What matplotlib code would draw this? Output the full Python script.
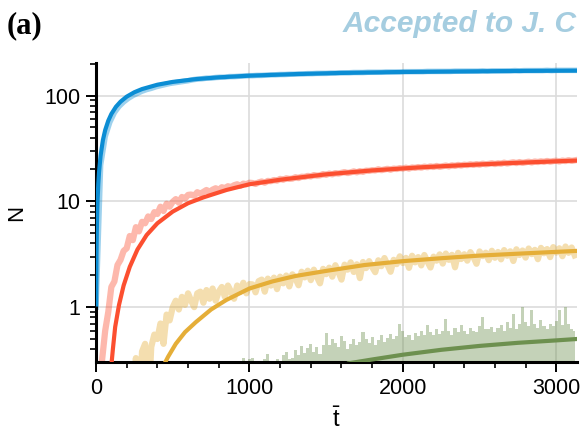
import numpy as np
import matplotlib
matplotlib.use("Agg")
import matplotlib.pyplot as plt
from matplotlib.ticker import FixedLocator, LogLocator, NullFormatter, FixedFormatter

plt.rcParams['font.family'] = ['Liberation Sans', 'DejaVu Sans']
plt.rcParams['mathtext.fontset'] = 'custom'
plt.rcParams['mathtext.rm'] = 'Liberation Sans'

# ---------------- data ----------------
blue_step = 30   # time spacing of the blue samples
fine_step = 20   # time spacing of the red / yellow / green samples

blue_data = [1.0, 22, 41, 56, 69, 79, 87, 94, 100, 105, 110, 114, 117, 121, 124, 127, 130, 132, 134, 136, 138,
             141, 143, 144, 146, 146, 148, 149, 149, 151, 151, 152, 153, 154,
             154, 155, 155, 156, 157, 157, 158, 158, 159, 159, 160, 160, 161, 161, 162, 162, 162,
             163, 163, 164, 164, 164, 165, 165, 165, 166, 166, 166, 166, 167, 167, 167, 167, 168, 168, 168, 168,
             168, 169, 169, 169, 169, 169, 169, 170, 170, 170, 170, 170, 170, 171, 170, 171, 171, 171, 171, 171,
             172, 171, 172, 172, 172, 172, 172, 173, 172, 173, 173, 173, 173, 173]

red_data = [0.1, 0.18, 0.32, 0.6, 0.9, 1.55, 1.75, 2.5, 2.8, 3.4,
            3.6, 4.7, 4.3, 5.7, 5.2, 6.4, 6.2, 7.2, 6.8, 7.9, 7.6, 8.9, 8.1, 9.5, 8.9, 9.9,
            10.5, 9.7, 11.0, 10.6, 11.5,
            11.6, 11.3, 12.2, 11.8, 12.3, 12.8, 12.3, 12.9, 13.3, 12.8, 13.6, 13.3, 13.9, 13.6, 14.2,
            14.5, 14.0, 14.7, 14.5, 15.0,
            14.9, 14.6, 15.1, 15.4, 15.0, 15.6, 15.5, 15.9, 15.7, 16.3,
            16.0, 16.5, 16.3, 16.4, 16.9, 16.6, 17.1, 17.0, 17.4, 17.2,
            17.7, 17.5, 17.6, 18.1, 17.8, 18.3, 18.0, 18.5, 18.3, 18.6,
            18.9, 18.5, 18.8, 19.2, 18.8, 19.3, 19.0, 19.5, 19.4, 19.7,
            19.6, 20.1, 19.7, 20.0, 20.3, 19.9, 20.4, 20.2, 20.6, 20.4,
            20.8, 20.4, 20.9, 20.7, 21.1, 20.8, 21.3, 21.0, 21.4, 21.1,
            21.6, 21.2, 21.5, 21.8, 21.4, 21.9, 21.6, 22.1, 21.8, 22.2,
            22.0, 22.4, 22.1, 22.5, 22.2, 22.7, 22.4, 22.6, 22.9, 22.5,
            22.9, 22.7, 23.2, 22.8, 23.1, 23.4, 23.0, 23.5, 23.1, 23.4,
            23.7, 23.3, 23.8, 23.5, 23.9, 23.6, 24.1, 23.7, 24.0, 24.2,
            23.8, 24.3, 24.0, 24.5, 24.1, 24.4]

yellow_data = [0.1] * 13 + [
    0.33, 0.1, 0.38, 0.45, 0.1, 0.42, 0.55, 0.5, 0.7, 0.45, 0.85, 0.75, 1.0,
    1.15, 0.95, 1.25, 1.05, 1.35, 1.15, 1.0, 1.35, 1.4, 1.1, 1.45, 1.2, 1.5, 1.15, 1.4, 1.55,
    1.25, 1.6, 1.4, 1.2, 1.6, 1.4, 1.7, 1.35, 1.65,
    1.64, 1.38, 1.76, 1.82, 1.40, 1.86, 1.60, 1.90, 1.48, 1.94,
    1.68, 1.99, 1.57, 2.04, 1.87, 1.61, 2.16, 1.91, 2.21, 1.80,
    2.26, 1.93, 1.68, 2.30, 2.05, 2.36, 1.94, 2.49, 2.15, 1.82,
    2.52, 2.26, 2.65, 2.15, 2.54, 1.88, 2.67, 2.34, 2.72, 2.39,
    2.14, 2.77, 2.44, 2.91, 2.50, 2.16, 2.80, 2.55, 3.02, 2.61,
    2.92, 2.35, 3.06, 2.65, 2.97, 2.48, 3.11, 2.70, 2.37, 3.00,
    2.75, 3.15, 2.58, 3.21, 2.80, 3.12, 2.38, 3.26, 2.85, 3.16,
    2.75, 3.31, 2.98, 2.57, 3.36, 3.04, 3.27, 2.78, 3.41, 2.93,
    3.32, 2.83, 3.46, 3.06, 3.37, 2.73, 3.52, 3.11, 3.43, 2.94,
    3.58, 3.17, 3.48, 2.84, 3.63, 3.23, 3.54, 2.97, 3.69, 3.28,
    3.60, 3.03, 3.74, 3.26, 3.66, 3.09]

green_data = [0.1] * 47 + [
    0.31, 0.33, 0.1, 0.32, 0.33, 0.1, 0.1, 0.31, 0.32, 0.36, 0.1, 0.1, 0.32, 0.1, 0.35,
    0.38, 0.32, 0.33, 0.39, 0.35, 0.43, 0.37, 0.41, 0.45, 0.38, 0.42, 0.36, 0.44, 0.57,
    0.44, 0.5, 0.46, 0.42, 0.53, 0.48, 0.4, 0.45, 0.5, 0.44,
    0.47, 0.58, 0.5, 0.46, 0.52, 0.44, 0.49, 0.55, 0.47, 0.51,
    0.56, 0.5, 0.53, 0.7, 0.6, 0.52, 0.55, 0.49, 0.57, 0.53,
    0.6, 0.55, 0.68, 0.58, 0.54, 0.62, 0.56, 0.6, 0.77, 0.6,
    0.55, 0.63, 0.58, 0.68, 0.6, 0.56, 0.64, 0.6, 0.58, 0.66,
    0.81, 0.62, 0.62, 0.65, 0.58, 0.63, 0.68, 0.6, 0.72, 0.64,
    0.87, 0.62, 0.7, 1.0, 0.72, 0.66, 0.94, 0.7, 0.64, 0.76,
    0.66, 0.62, 0.7, 0.66, 0.74, 0.93, 0.68, 1.0, 0.7, 0.62,
    0.6]

blue_fit_t = [1, 3, 6, 10, 15, 20, 30, 45, 60, 80, 100, 130, 160, 200, 250, 300, 400, 500, 650, 800,
              1000, 1300, 1600, 2000, 2400, 2800, 3135]
blue_fit = [1.06, 3.1, 6.2, 10.1, 14.7, 19.0, 27.1, 37.9, 47.2, 57.8, 66.9, 78.3, 87.5, 97.6, 107.4,
            115.1, 126.5, 134.5, 142.9, 148.6, 154.0, 159.5, 163.5, 167.0, 169.0, 171.0, 172.0]

red_fit_t = [100, 110, 125, 150, 180, 220, 270, 330, 400, 500, 600, 700, 850, 1000, 1200, 1500, 1800,
             2100, 2400, 2700, 3000, 3135]
red_fit = [0.28, 0.4, 0.65, 1.05, 1.6, 2.4, 3.5, 4.8, 6.2, 8.0, 9.6, 10.9, 12.8, 14.5, 16.0, 18.0, 19.6,
           20.9, 22.0, 23.0, 23.9, 24.3]

yellow_fit_t = [440, 470, 520, 580, 650, 750, 850, 1000, 1150, 1300, 1500, 1750, 2000, 2250, 2500,
                2750, 3000, 3135]
yellow_fit = [0.28, 0.34, 0.45, 0.58, 0.72, 0.95, 1.17, 1.5, 1.75, 1.97, 2.2, 2.5, 2.72, 2.9, 3.07,
              3.2, 3.33, 3.4]

green_fit_t = [1650, 1800, 2000, 2250, 2500, 2750, 3000, 3135]
green_fit = [0.295, 0.32, 0.355, 0.395, 0.43, 0.46, 0.485, 0.50]

x_ticks = [0, 1000, 2000, 3000]
x_ticklabels = ['0', '1000', '2000', '3000']
y_ticks = [1, 10, 100]
y_ticklabels = ['1', '10', '100']

c_blue, c_red, c_yellow, c_green = '#0b8dd4', '#fc4f30', '#e5ae38', '#6d904f'

# ---------------- figure ----------------
fig = plt.figure(figsize=(5.87, 4.32), dpi=100)
ax = fig.add_axes([96 / 587, 1 - 362 / 432, (577 - 96) / 587, (362 - 63) / 432])

def tt(v, step):
    return step * np.arange(len(v))

ax.fill_between(tt(green_data, fine_step), 0.01, green_data, step='mid', color=c_green, alpha=0.4,
                lw=0, zorder=2)
ax.plot(tt(yellow_data, fine_step), yellow_data, color=c_yellow, alpha=0.4, lw=4.5, zorder=2)
ax.plot(tt(red_data, fine_step), red_data, color=c_red, alpha=0.4, lw=4.5, zorder=2)
ax.plot(tt(blue_data, blue_step), blue_data, color=c_blue, alpha=0.4, lw=4.0, zorder=2)

ax.plot(green_fit_t, green_fit, color=c_green, lw=3.0, zorder=3)
ax.plot(yellow_fit_t, yellow_fit, color=c_yellow, lw=3.0, zorder=3)
ax.plot(red_fit_t, red_fit, color=c_red, lw=3.0, zorder=3)
ax.plot(blue_fit_t, blue_fit, color=c_blue, lw=3.0, zorder=3)

ax.set_yscale('log')
ax.set_xlim(0, 3135)
ax.set_ylim(0.303, 203)

ax.xaxis.set_major_locator(FixedLocator(x_ticks))
ax.xaxis.set_major_formatter(FixedFormatter(x_ticklabels))
ax.xaxis.set_minor_locator(FixedLocator([t for t in range(200, 3135, 200) if t % 1000]))
ax.yaxis.set_major_locator(FixedLocator(y_ticks))
ax.yaxis.set_major_formatter(FixedFormatter(y_ticklabels))
ax.yaxis.set_minor_locator(LogLocator(base=10, subs=np.arange(2, 10)))
ax.yaxis.set_minor_formatter(NullFormatter())

ax.grid(True, which='major', color='#dcdcdc', lw=1.2, zorder=0)
ax.set_axisbelow(True)

for s in ['top', 'right']:
    ax.spines[s].set_visible(False)
for s in ['left', 'bottom']:
    ax.spines[s].set_linewidth(2.2)

ax.tick_params(which='major', direction='out', length=7.5, width=1.4, labelsize=15.5, pad=4)
ax.tick_params(which='minor', direction='out', length=4, width=1.2)

ax.set_ylabel('N', fontsize=16, labelpad=12)
ax.set_xlabel(r'$\bar{\mathrm{t}}$', fontsize=17, labelpad=6)

fig.text(7 / 587, 1 - 33 / 432, '(a)', fontsize=22, fontweight='bold',
         family=['Liberation Serif', 'DejaVu Serif'], va='baseline', ha='left')
fig.text(343 / 587, 1 - 32 / 432, 'Accepted to J. C', fontsize=21.5, fontweight='bold',
         style='italic', color='#a5cde0', va='baseline', ha='left')

fig.savefig('out.png', dpi=100)
